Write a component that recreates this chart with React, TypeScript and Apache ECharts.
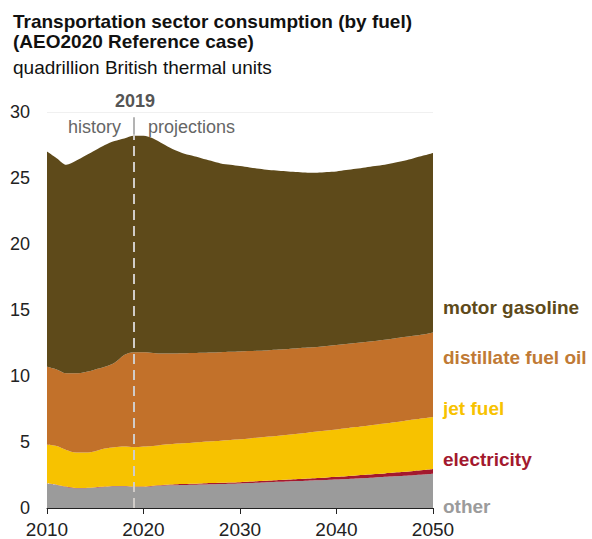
import React, { useEffect, useRef } from "react";
import * as echarts from "echarts";

const years: string[] = [];
for (let y = 2010; y <= 2050; y++) years.push(String(y));

const other = [1.85, 1.75, 1.6, 1.5, 1.5, 1.55, 1.6, 1.65, 1.65, 1.6, 1.6, 1.65, 1.7, 1.72, 1.74, 1.76, 1.78, 1.8, 1.82, 1.84, 1.86, 1.89, 1.92, 1.95, 1.98, 2.01, 2.04, 2.07, 2.1, 2.13, 2.16, 2.2, 2.24, 2.28, 2.32, 2.36, 2.4, 2.44, 2.49, 2.54, 2.6];
const electricity = [0.02, 0.02, 0.02, 0.02, 0.02, 0.02, 0.02, 0.02, 0.02, 0.02, 0.03, 0.04, 0.05, 0.06, 0.07, 0.08, 0.08, 0.09, 0.09, 0.1, 0.1, 0.11, 0.12, 0.13, 0.14, 0.15, 0.16, 0.17, 0.18, 0.19, 0.2, 0.21, 0.22, 0.23, 0.25, 0.26, 0.28, 0.3, 0.32, 0.33, 0.35];
const jetFuel = [2.93, 2.93, 2.78, 2.68, 2.68, 2.73, 2.88, 2.93, 2.98, 2.98, 3.02, 3.01, 3.05, 3.07, 3.09, 3.11, 3.14, 3.16, 3.19, 3.21, 3.24, 3.27, 3.3, 3.33, 3.36, 3.39, 3.43, 3.47, 3.51, 3.55, 3.59, 3.63, 3.67, 3.71, 3.74, 3.78, 3.82, 3.86, 3.89, 3.93, 3.95];
const distillate = [5.9, 5.8, 5.8, 6.0, 6.1, 6.2, 6.2, 6.4, 6.95, 7.2, 7.15, 7.05, 6.9, 6.85, 6.82, 6.79, 6.76, 6.73, 6.7, 6.68, 6.66, 6.62, 6.58, 6.55, 6.52, 6.5, 6.47, 6.44, 6.41, 6.4, 6.39, 6.38, 6.37, 6.36, 6.35, 6.35, 6.35, 6.35, 6.35, 6.35, 6.4];
const gasoline = [16.3, 16.0, 15.8, 16.1, 16.4, 16.6, 16.8, 16.8, 16.4, 16.4, 16.4, 16.25, 15.9, 15.5, 15.18, 14.96, 14.74, 14.52, 14.3, 14.17, 14.04, 13.91, 13.78, 13.64, 13.55, 13.45, 13.35, 13.25, 13.2, 13.18, 13.16, 13.18, 13.2, 13.22, 13.24, 13.25, 13.3, 13.35, 13.45, 13.55, 13.6];

const seriesNames = ["other", "electricity", "jet fuel", "distillate fuel oil", "motor gasoline"];
const seriesColors = ["#9b9b9b", "#a3192e", "#f7c200", "#c2712a", "#5e4a1a"];
const labelColors = ["#9b9b9b", "#a3192e", "#f7c200", "#c07a35", "#5e4a1a"];
const yTicks = [0, 5, 10, 15, 20, 25, 30];
const dividerYear = "2019";

const FONT = "Liberation Sans, Arial, sans-serif";

export default function App() {
  const ref = useRef<HTMLDivElement>(null);
  useEffect(() => {
    document.body.style.margin = "0";
    if (!ref.current) return;
    const chart = echarts.init(ref.current, null, { renderer: "svg" });
    const data = [other, electricity, jetFuel, distillate, gasoline];
    const labelY = [506, 459, 408, 357, 307];
    const series: any[] = data.map((d, i) => ({
      name: seriesNames[i],
      type: "line",
      stack: "total",
      data: d,
      symbol: "none",
      smooth: 0.3,
      lineStyle: { width: 0 },
      areaStyle: { color: seriesColors[i], opacity: 1 },
      itemStyle: { color: seriesColors[i] },
      z: 2,
    }));
    series[4].markLine = {
      symbol: "none",
      silent: true,
      label: { show: false },
      z: 10,
      data: [
        [
          { coord: [dividerYear, 0], lineStyle: { type: [10, 6], color: "#d0ccc8", width: 2 } },
          { coord: [dividerYear, 28.3] },
        ],
        [
          { coord: [dividerYear, 28.3], lineStyle: { type: "solid", color: "#9a9a9a", width: 1.5 } },
          { coord: [dividerYear, 29.6] },
        ],
      ],
    };
    chart.setOption({
      animation: false,
      grid: { left: 47, right: 159, top: 112, bottom: 31, containLabel: false },
      xAxis: {
        type: "category",
        data: years,
        boundaryGap: false,
        axisLine: { show: true, lineStyle: { color: "#222", width: 1 } },
        axisTick: {
          show: true,
          length: 6,
          interval: (i: number) => i % 10 === 0,
          lineStyle: { color: "#222" },
        },
        axisLabel: {
          interval: (i: number) => i % 10 === 0,
          fontSize: 19,
          color: "#222",
          fontFamily: FONT,
          margin: 12,
        },
        splitLine: { show: false },
        z: 5,
      },
      yAxis: {
        type: "value",
        min: 0,
        max: 30,
        interval: 5,
        axisLine: { show: false },
        axisTick: { show: false },
        axisLabel: {
          fontSize: 18,
          color: "#222",
          fontFamily: FONT,
          margin: 17,
          customValues: yTicks,
        },
        splitLine: { show: true, lineStyle: { color: "#f0f0f0", width: 1 } },
      },
      series,
      graphic: [
        {
          type: "text",
          x: 13,
          y: 21,
          style: {
            text: "Transportation sector consumption (by fuel)",
            font: `bold 19px ${FONT}`,
            fill: "#111",
            verticalAlign: "middle",
          },
        },
        {
          type: "text",
          x: 13,
          y: 41,
          style: {
            text: "(AEO2020 Reference case)",
            font: `bold 19px ${FONT}`,
            fill: "#111",
            verticalAlign: "middle",
          },
        },
        {
          type: "text",
          x: 13,
          y: 67,
          style: {
            text: "quadrillion British thermal units",
            font: `19px ${FONT}`,
            fill: "#111",
            verticalAlign: "middle",
          },
        },
        {
          type: "text",
          x: 135,
          y: 101,
          style: {
            text: "2019",
            font: `bold 18px ${FONT}`,
            fill: "#555",
            align: "center",
            verticalAlign: "middle",
          },
        },
        {
          type: "text",
          x: 121,
          y: 127,
          style: {
            text: "history",
            font: `18px ${FONT}`,
            fill: "#666",
            align: "right",
            verticalAlign: "middle",
          },
        },
        {
          type: "text",
          x: 148,
          y: 127,
          style: {
            text: "projections",
            font: `18px ${FONT}`,
            fill: "#666",
            align: "left",
            verticalAlign: "middle",
          },
        },
        ...seriesNames.map((n, i) => ({
          type: "text",
          x: 443,
          y: labelY[i],
          style: {
            text: n,
            font: `bold 19px ${FONT}`,
            fill: labelColors[i],
            align: "left",
            verticalAlign: "middle",
          },
        })),
      ],
    });
    return () => chart.dispose();
  }, []);
  return (
    <div
      ref={ref}
      style={{ width: 592, height: 539, position: "absolute", left: 0, top: 0 }}
    />
  );
}
